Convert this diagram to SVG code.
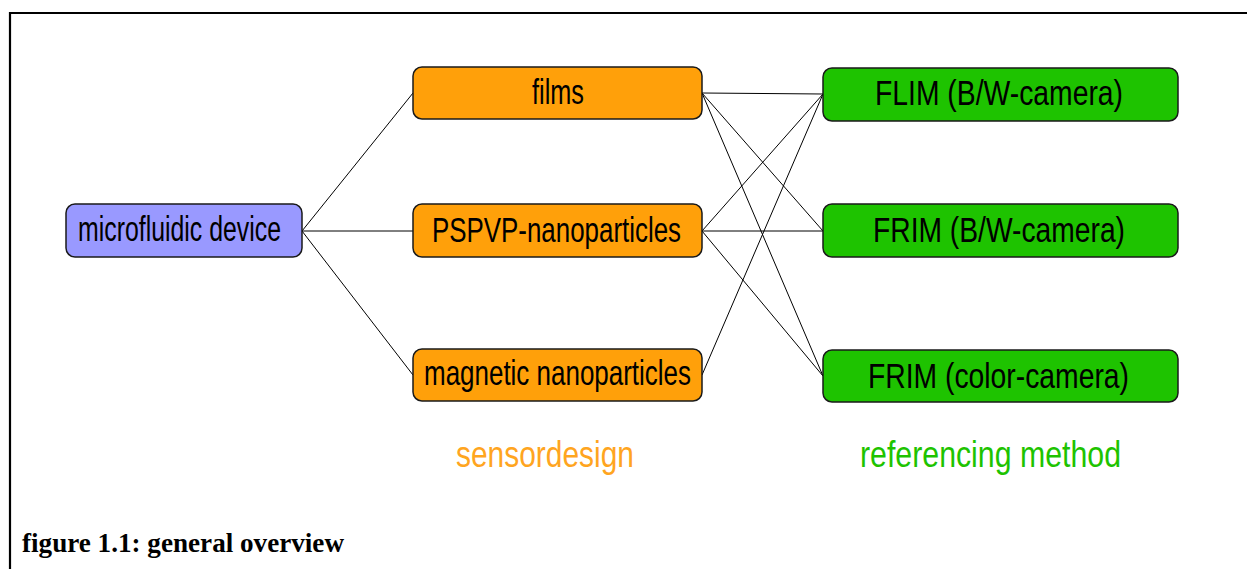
<svg xmlns="http://www.w3.org/2000/svg" width="1247" height="569" viewBox="0 0 1247 569">
  <style>
    .box { stroke: #1a1a1a; stroke-width: 1.5; }
    .dev { fill: #9999ff; }
    .sen { fill: #ffa00a; }
    .ref { fill: #1ec300; }
    .lbl { font-family: "Liberation Sans", Arial, sans-serif; font-size: 35px; fill: #000; }
    .head { font-family: "Liberation Sans", Arial, sans-serif; font-size: 36px; }
    .edge { stroke: #000; stroke-width: 1; fill: none; }
    .cap { font-family: "Liberation Serif", "Times New Roman", serif; font-size: 26.5px; font-weight: bold; fill: #000; }
  </style>
  <rect width="1247" height="569" fill="#fff"/>
  <!-- frame: top and left rules -->
  <g id="frame" stroke="#000" stroke-width="2.2" fill="none">
    <line x1="9" y1="13" x2="1247" y2="13"/>
    <line x1="10" y1="12" x2="10" y2="569"/>
  </g>

  <g id="connectors">
    <line class="edge" x1="302" y1="231" x2="413" y2="93"/>
    <line class="edge" x1="302" y1="231" x2="413" y2="231"/>
    <line class="edge" x1="302" y1="231" x2="413" y2="375"/>
    <line class="edge" x1="702" y1="93" x2="823" y2="94"/>
    <line class="edge" x1="702" y1="93" x2="823" y2="231"/>
    <line class="edge" x1="702" y1="93" x2="823" y2="376"/>
    <line class="edge" x1="702" y1="231" x2="823" y2="94"/>
    <line class="edge" x1="702" y1="231" x2="823" y2="231"/>
    <line class="edge" x1="702" y1="231" x2="823" y2="376"/>
    <line class="edge" x1="702" y1="375" x2="823" y2="94"/>
  </g>

  <g id="microfluidic-device">
    <rect class="box dev" x="66" y="204" width="236" height="53" rx="9"/>
    <text class="lbl" x="78" y="241" textLength="203" lengthAdjust="spacingAndGlyphs">microfluidic device</text>
  </g>

  <g id="films">
    <rect class="box sen" x="413" y="67" width="289" height="52" rx="9"/>
    <text class="lbl" x="532" y="104" textLength="52" lengthAdjust="spacingAndGlyphs">films</text>
  </g>
  <g id="pspvp-nanoparticles">
    <rect class="box sen" x="413" y="204" width="289" height="53" rx="9"/>
    <text class="lbl" x="432" y="242" textLength="249" lengthAdjust="spacingAndGlyphs">PSPVP-nanoparticles</text>
  </g>
  <g id="magnetic-nanoparticles">
    <rect class="box sen" x="413" y="349" width="289" height="52" rx="9"/>
    <text class="lbl" x="424" y="385" textLength="267" lengthAdjust="spacingAndGlyphs">magnetic nanoparticles</text>
  </g>

  <g id="flim-bw">
    <rect class="box ref" x="823" y="68" width="355" height="53" rx="9"/>
    <text class="lbl" x="875" y="105" textLength="248" lengthAdjust="spacingAndGlyphs">FLIM (B/W-camera)</text>
  </g>
  <g id="frim-bw">
    <rect class="box ref" x="823" y="204" width="355" height="53" rx="9"/>
    <text class="lbl" x="873" y="242" textLength="252" lengthAdjust="spacingAndGlyphs">FRIM (B/W-camera)</text>
  </g>
  <g id="frim-color">
    <rect class="box ref" x="823" y="350" width="355" height="52" rx="9"/>
    <text class="lbl" x="868" y="388" textLength="261" lengthAdjust="spacingAndGlyphs">FRIM (color-camera)</text>
  </g>

  <g id="column-titles">
    <text class="head" x="456" y="467" fill="#ffa51f" textLength="178" lengthAdjust="spacingAndGlyphs">sensordesign</text>
    <text class="head" x="860" y="467" fill="#1ec300" textLength="261" lengthAdjust="spacingAndGlyphs">referencing method</text>
  </g>

  <text class="cap" x="22" y="552" textLength="322" lengthAdjust="spacingAndGlyphs">figure 1.1: general overview</text>
</svg>
